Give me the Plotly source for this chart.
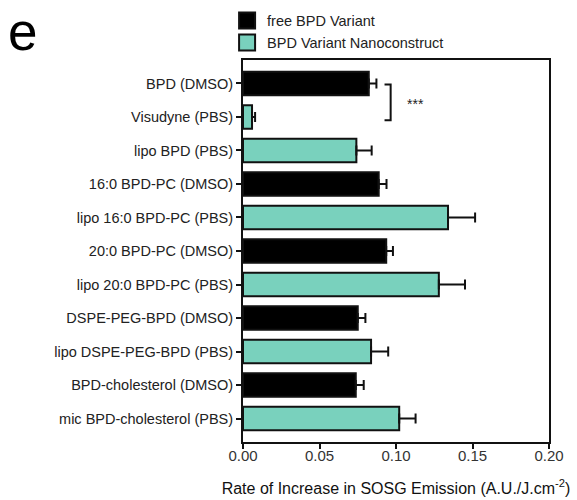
import plotly.graph_objects as go

categories = [
    "BPD (DMSO)", "Visudyne (PBS)", "lipo BPD (PBS)", "16:0 BPD-PC (DMSO)",
    "lipo 16:0 BPD-PC (PBS)", "20:0 BPD-PC (DMSO)", "lipo 20:0 BPD-PC (PBS)",
    "DSPE-PEG-BPD (DMSO)", "lipo DSPE-PEG-BPD (PBS)", "BPD-cholesterol (DMSO)",
    "mic BPD-cholesterol (PBS)",
]
means = [0.0822, 0.0059, 0.0741, 0.0887, 0.1340, 0.0936, 0.1280, 0.0750, 0.0837, 0.0737, 0.1021]
errors = [0.0050, 0.0020, 0.0100, 0.0051, 0.0177, 0.0044, 0.0171, 0.0050, 0.0112, 0.0052, 0.0107]
is_free = [True, False, False, True, False, True, False, True, False, True, False]

series_names = ["free BPD Variant", "BPD Variant Nanoconstruct"]
colors = ["#000000", "#79d1bd"]
x_ticks = [0.0, 0.05, 0.10, 0.15, 0.20]
x_tick_labels = ["0.00", "0.05", "0.10", "0.15", "0.20"]

FONT = "Liberation Sans, Arial, Helvetica, sans-serif"
EDGE = "#111111"

fig = go.Figure()
for gi, (name, color) in enumerate(zip(series_names, colors)):
    want_free = gi == 0
    idx = [i for i in range(len(categories)) if is_free[i] == want_free]
    fig.add_trace(go.Bar(
        name=name,
        legendgroup=name,
        showlegend=False,
        y=[categories[i] for i in idx],
        x=[means[i] for i in idx],
        orientation="h",
        width=0.7,
        marker=dict(color=color, line=dict(color=EDGE, width=2)),
        error_x=dict(type="data", symmetric=False,
                     array=[errors[i] for i in idx],
                     arrayminus=[0] * len(idx),
                     color=EDGE, thickness=2, width=5),
    ))
# legend entries (larger square swatches, as in the reference)
for name, color in zip(series_names, colors):
    fig.add_trace(go.Scatter(
        name=name, legendgroup=name, x=[None], y=[None], mode="markers",
        marker=dict(symbol="square", size=16, color=color,
                    line=dict(color=EDGE, width=2)),
        showlegend=True, hoverinfo="skip",
    ))

# significance bracket between BPD (DMSO) and Visudyne (PBS)
fig.add_shape(type="path", xref="x", yref="y",
              path="M 0.0925 0.03 L 0.0965 0.03 L 0.0965 1.1 L 0.0925 1.1",
              line=dict(color=EDGE, width=2))
fig.add_annotation(x=0.113, y=0.6, xref="x", yref="y", text="***",
                   showarrow=False, font=dict(family=FONT, size=14, color="#222"))

# panel label
fig.add_annotation(x=-0.722, y=1.157, xref="paper", yref="paper", text="e",
                   showarrow=False, xanchor="center", yanchor="top",
                   font=dict(family=FONT, size=53, color="#000"))

fig.update_layout(
    width=577, height=500,
    margin=dict(l=243, r=28, t=60, b=58, autoexpand=False),
    paper_bgcolor="white", plot_bgcolor="white",
    barmode="overlay",
    font=dict(family=FONT, size=14, color="#222"),
    legend=dict(x=-0.052, y=1.145, xanchor="left", yanchor="top",
                font=dict(family=FONT, size=14.5, color="#222"),
                itemsizing="trace",
                bgcolor="rgba(0,0,0,0)", traceorder="normal", tracegroupgap=0),
    showlegend=True,
)
fig.update_xaxes(range=[0, 0.2], tickvals=x_ticks, ticktext=x_tick_labels,
                 showline=True, linecolor=EDGE, linewidth=2, mirror=True,
                 ticks="outside", ticklen=5, tickwidth=2, tickcolor=EDGE,
                 ticklabelstandoff=-6,
                 showgrid=False, zeroline=False,
                 tickfont=dict(family=FONT, size=15, color="#333"),
                 title=dict(text="Rate of Increase in SOSG Emission (A.U./J.cm<sup>-2</sup>)",
                            font=dict(family=FONT, size=16, color="#111"), standoff=20))
fig.update_yaxes(type="category", categoryorder="array", categoryarray=categories,
                 range=[10.7, -0.7],
                 showline=True, linecolor=EDGE, linewidth=2, mirror=True,
                 ticks="outside", ticklen=5, tickwidth=2, tickcolor=EDGE,
                 showgrid=False, zeroline=False,
                 tickfont=dict(family=FONT, size=14.5, color="#222"))

fig.write_html("out.html")
